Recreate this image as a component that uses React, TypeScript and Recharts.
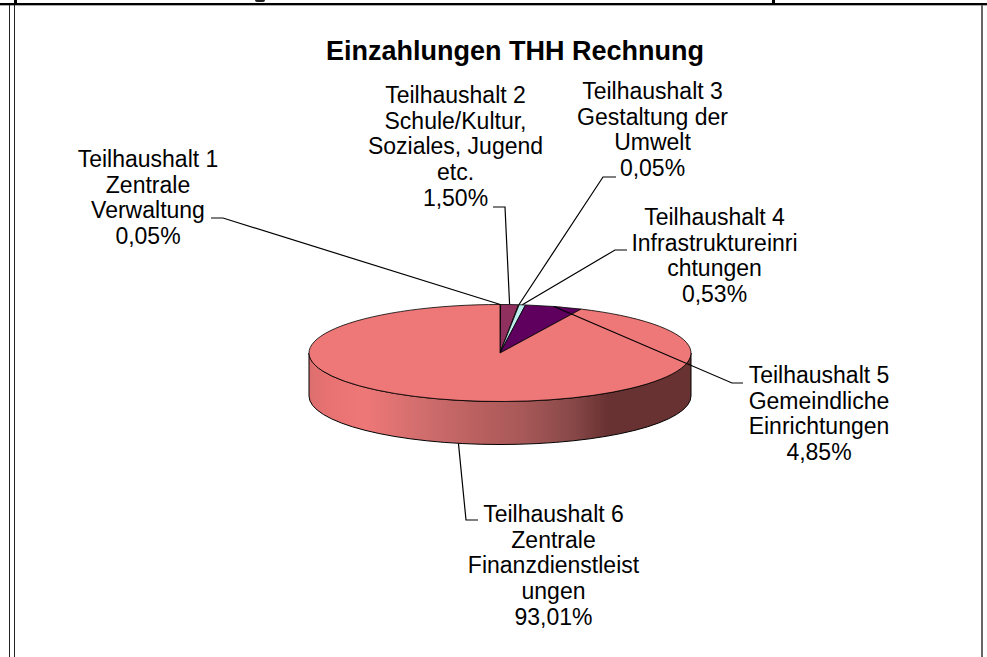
import { PieChart, Pie } from 'recharts'

const NAMES = [
  ['Teilhaushalt 1', 'Zentrale', 'Verwaltung'],
  ['Teilhaushalt 2', 'Schule/Kultur,', 'Soziales, Jugend', 'etc.'],
  ['Teilhaushalt 3', 'Gestaltung der', 'Umwelt'],
  ['Teilhaushalt 4', 'Infrastruktureinri', 'chtungen'],
  ['Teilhaushalt 5', 'Gemeindliche', 'Einrichtungen'],
  ['Teilhaushalt 6', 'Zentrale', 'Finanzdienstleist', 'ungen'],
]
const VALUES = [0.05, 1.5, 0.05, 0.53, 4.85, 93.01]
const COLORS = ['#8f8fee', '#8f305f', '#eeeebe', '#beeeee', '#5f005f', '#ee7777']

// where each label sits and where its leader line bends
const LABEL_X = [148, 455.5, 652.5, 714.5, 819, 553.5]
const LABEL_Y = [167, 103, 99, 225, 383, 522]
const LINE_START = [[211, 218], [493, 207], [616, 177], [627, 250], [743, 383], [478, 520]]
const LINE_BEND = [[223, 218], [505, 207], [603, 177], [615, 250], [732, 383], [466, 520]]

const CX = 500
const CY = 353
const RX = 191
const SQUASH = 48.5 / 191
const DEPTH = 43
const LINE_HEIGHT = 25.7

const chartData = VALUES.map((value, i) => ({ name: NAMES[i].join(' '), value, fill: COLORS[i] }))

const rad = (a: number) => (a * Math.PI) / 180
const px = (cx: number, r: number, a: number) => cx + r * Math.cos(rad(a))
const py = (cy: number, r: number, a: number) => cy - r * SQUASH * Math.sin(rad(a))

// flat ellipse slice instead of the round sector, the biggest one also draws the rim
function Slice3D(props: any) {
  const { cx, cy, outerRadius: r, startAngle, endAngle, fill } = props
  const big = Math.abs(endAngle - startAngle) > 180 ? 1 : 0
  const ry = r * SQUASH
  const d = `M${cx},${cy} L${px(cx, r, startAngle)},${py(cy, r, startAngle)} A${r},${ry} 0 ${big} 1 ${px(cx, r, endAngle)},${py(cy, r, endAngle)} Z`
  return (
    <g>
      {big === 1 && (
        <path
          d={`M${cx - r},${cy} A${r},${ry} 0 0 0 ${cx + r},${cy} L${cx + r},${cy + DEPTH} A${r},${ry} 0 0 1 ${cx - r},${cy + DEPTH} Z`}
          fill="url(#rimShade)"
          stroke="#000"
          strokeWidth={1}
        />
      )}
      <path d={d} fill={fill} stroke="#000" strokeWidth={0.8} strokeLinejoin="round" />
    </g>
  )
}

function renderLabel(props: any) {
  const { index, value } = props
  const lines = [...NAMES[index], value.toFixed(2).replace('.', ',') + '%']
  return (
    <text
      key={index}
      x={LABEL_X[index]}
      y={LABEL_Y[index]}
      textAnchor="middle"
      fontFamily="Liberation Sans"
      fontSize={23}
      fill="#000"
      stroke="none"
    >
      {lines.map((line, i) => (
        <tspan key={i} x={LABEL_X[index]} y={LABEL_Y[index] + i * LINE_HEIGHT}>
          {line}
        </tspan>
      ))}
    </text>
  )
}

function renderLine(props: any) {
  const { index, midAngle, cx, cy, outerRadius } = props
  const ax = px(cx, outerRadius, midAngle)
  // the front slice line starts at the lower rim edge
  const ay = py(cy, outerRadius, midAngle) + (Math.sin(rad(midAngle)) < 0 ? DEPTH : 0)
  const s = LINE_START[index]
  const b = LINE_BEND[index]
  return (
    <polyline
      key={index}
      points={`${s[0]},${s[1]} ${b[0]},${b[1]} ${ax},${ay}`}
      fill="none"
      stroke="#000"
      strokeWidth={1.2}
    />
  )
}

const frame = (left: number, top: number, width: number, height: number, background: string, borderRadius = 0) => (
  <div style={{ position: 'absolute', left, top, width, height, background, borderRadius }} />
)

export default function App() {
  return (
    <div style={{ position: 'absolute', left: 0, top: 0, width: 987, height: 657, background: '#fff', overflow: 'hidden' }}>
      {frame(0, 3, 987, 2, '#000')}
      {frame(0, 5, 987, 1, '#aaa')}
      {frame(14, 0, 3, 3, '#000')}
      {frame(772, 0, 3, 3, '#000')}
      {/* bottom of a letter from the cut off line above the chart */}
      {frame(255, -2, 10, 4, '#222', 4)}
      {frame(9, 5, 1, 652, '#222')}
      {frame(14, 5, 1, 652, '#222')}
      {frame(981, 5, 2, 652, '#666')}
      <div style={{ position: 'absolute', left: 0, top: 0 }}>
        <PieChart width={987} height={657} margin={{ top: 0, right: 0, bottom: 0, left: 0 }}>
          <defs>
            <linearGradient id="rimShade" x1="0" y1="0" x2="1" y2="0">
              <stop offset="0" stopColor="#dd6e6e" />
              <stop offset="0.05" stopColor="#e87272" />
              <stop offset="0.15" stopColor="#ee7777" />
              <stop offset="0.3" stopColor="#d06d6d" />
              <stop offset="0.44" stopColor="#ba6060" />
              <stop offset="0.56" stopColor="#a85858" />
              <stop offset="0.69" stopColor="#884848" />
              <stop offset="0.78" stopColor="#693232" />
              <stop offset="1" stopColor="#693232" />
            </linearGradient>
          </defs>
          <text x={515} y={60} textAnchor="middle" fontFamily="Liberation Sans" fontWeight="bold" fontSize={27} fill="#000">
            Einzahlungen THH Rechnung
          </text>
          <Pie
            data={chartData}
            dataKey="value"
            nameKey="name"
            cx={CX}
            cy={CY}
            outerRadius={RX}
            startAngle={90}
            endAngle={-270}
            isAnimationActive={false}
            shape={Slice3D}
            label={renderLabel}
            labelLine={renderLine}
          />
        </PieChart>
      </div>
    </div>
  )
}
